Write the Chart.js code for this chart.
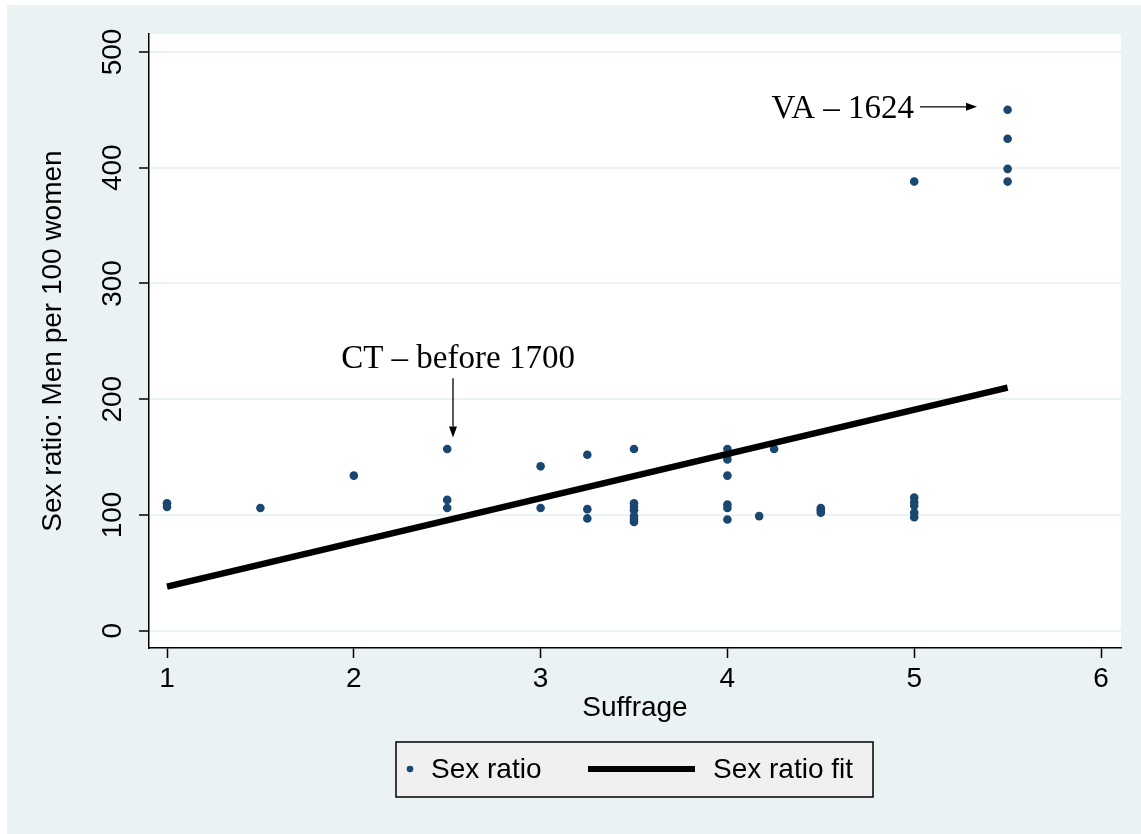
<!DOCTYPE html>
<html lang="en">
<head>
  <meta charset="UTF-8">
  <title>Sex ratio and suffrage</title>
  <script src="https://cdn.jsdelivr.net/npm/chart.js"></script>
  <style>
    html, body { margin: 0; padding: 0; background: #ffffff; }
    canvas { display: block; }
  </style>
</head>
<body>
  <canvas id="grafica" width="1141" height="834"></canvas>

  <script>
    // data
    const suffrage = [1, 1, 1.5, 2, 2.5, 2.5, 2.5, 3, 3,
      3.25, 3.25, 3.25,
      3.5, 3.5, 3.5, 3.5, 3.5, 3.5, 3.5,
      4, 4, 4, 4, 4, 4, 4,
      4.17, 4.25, 4.5, 4.5, 4.5,
      5, 5, 5, 5, 5, 5,
      5.5, 5.5, 5.5, 5.5];
    const sexRatio = [110, 107, 106, 134, 157, 113, 106, 142, 106,
      152, 105, 97,
      157, 110, 107, 104, 99, 96, 94,
      157, 152, 148, 134, 109, 106, 96,
      99, 157, 106, 104, 102,
      388, 115, 111, 108, 102, 98,
      450, 425, 399, 388];
    const fitX = [1, 5.5];
    const fitY = [38, 210];

    const xTicks = [1, 2, 3, 4, 5, 6];
    const yTicks = [0, 100, 200, 300, 400, 500];

    // annotations (data coordinates)
    const ctLabel = "CT \u2013 before 1700";
    const ctText = [2.558, 227];
    const ctArrow = [[2.531, 218], [2.531, 167]];
    const vaLabel = "VA \u2013 1624";
    const vaText = [4.999, 443];
    const vaArrow = [[5.031, 452.6], [5.336, 452.6]];

    const fondo = "#eaf2f3";
    const azul = "#1a476f";
    const sans = "'Liberation Sans', Arial, sans-serif";
    const serif = "'Liberation Serif', 'DejaVu Serif', serif";

    function flecha(ctx, x1, y1, x2, y2) {
      const ang = Math.atan2(y2 - y1, x2 - x1);
      const len = 11, half = 4;
      ctx.beginPath();
      ctx.moveTo(x1, y1);
      ctx.lineTo(x2 - len * Math.cos(ang), y2 - len * Math.sin(ang));
      ctx.stroke();
      ctx.beginPath();
      ctx.moveTo(x2, y2);
      ctx.lineTo(x2 - len * Math.cos(ang) - half * Math.sin(ang), y2 - len * Math.sin(ang) + half * Math.cos(ang));
      ctx.lineTo(x2 - len * Math.cos(ang) + half * Math.sin(ang), y2 - len * Math.sin(ang) - half * Math.cos(ang));
      ctx.closePath();
      ctx.fill();
    }

    const decorado = {
      id: 'decorado',
      beforeDraw(chart) {
        const { ctx, chartArea: a } = chart;
        ctx.save();
        ctx.fillStyle = "#ffffff";
        ctx.fillRect(0, 0, chart.width, chart.height);
        ctx.fillStyle = fondo;
        ctx.fillRect(7, 5, chart.width - 7, chart.height - 5);
        ctx.fillStyle = "#ffffff";
        ctx.fillRect(a.left, a.top, a.right - a.left, a.bottom - a.top);
        ctx.restore();
      },
      afterDraw(chart) {
        const { ctx, scales: { x, y } } = chart;
        ctx.save();

        // y tick labels, rotated
        ctx.fillStyle = "#000";
        ctx.font = "28px " + sans;
        ctx.textAlign = "center";
        ctx.textBaseline = "middle";
        yTicks.forEach(v => {
          ctx.save();
          ctx.translate(113, y.getPixelForValue(v));
          ctx.rotate(-Math.PI / 2);
          ctx.fillText(String(v), 0, 0);
          ctx.restore();
        });

        // annotations
        ctx.font = "33px " + serif;
        ctx.textBaseline = "alphabetic";
        ctx.textAlign = "center";
        ctx.fillText(ctLabel, x.getPixelForValue(ctText[0]), y.getPixelForValue(ctText[1]));
        ctx.textAlign = "right";
        ctx.fillText(vaLabel, x.getPixelForValue(vaText[0]), y.getPixelForValue(vaText[1]));
        ctx.strokeStyle = "#000";
        ctx.lineWidth = 1.3;
        [ctArrow, vaArrow].forEach(a => {
          flecha(ctx, x.getPixelForValue(a[0][0]), y.getPixelForValue(a[0][1]),
            x.getPixelForValue(a[1][0]), y.getPixelForValue(a[1][1]));
        });

        // legend
        const ds = chart.data.datasets;
        ctx.fillStyle = "#f0f0f0";
        ctx.fillRect(396, 742, 477, 55);
        ctx.strokeStyle = "#000";
        ctx.lineWidth = 1.5;
        ctx.strokeRect(396, 742, 477, 55);
        ctx.fillStyle = azul;
        ctx.beginPath();
        ctx.arc(410, 769, 3.3, 0, Math.PI * 2);
        ctx.fill();
        ctx.lineWidth = 6;
        ctx.beginPath();
        ctx.moveTo(588, 769);
        ctx.lineTo(695, 769);
        ctx.stroke();
        ctx.fillStyle = "#000";
        ctx.font = "28px " + sans;
        ctx.textAlign = "left";
        ctx.textBaseline = "middle";
        ctx.fillText(ds[0].label, 431, 770);
        ctx.fillText(ds[1].label, 713, 770);
        ctx.restore();
      }
    };

    const ctx = document.getElementById("grafica").getContext("2d");
    new Chart(ctx, {
      type: 'scatter',
      data: {
        datasets: [{
          label: 'Sex ratio',
          data: suffrage.map((s, i) => ({ x: s, y: sexRatio[i] })),
          backgroundColor: azul,
          borderWidth: 0,
          pointRadius: 4.3,
          order: 2
        }, {
          label: 'Sex ratio fit',
          data: fitX.map((s, i) => ({ x: s, y: fitY[i] })),
          showLine: true,
          borderColor: '#000',
          borderWidth: 6.5,
          pointRadius: 0,
          order: 1
        }]
      },
      options: {
        responsive: false,
        animation: false,
        events: [],
        layout: { padding: { left: 8, top: 34, right: 20, bottom: 109 } },
        plugins: { legend: { display: false }, tooltip: { enabled: false } },
        scales: {
          x: {
            type: 'linear',
            min: 0.9036,
            max: 6.107,
            afterBuildTicks: s => { s.ticks = xTicks.map(v => ({ value: v })); },
            afterFit: s => { s.height = 77; },
            ticks: { color: '#000', font: { family: sans, size: 28 }, padding: 4, maxRotation: 0 },
            grid: { drawOnChartArea: false, tickLength: 10, tickColor: '#000', tickWidth: 1.5 },
            border: { color: '#000', width: 1.5 },
            title: { display: true, text: 'Suffrage', color: '#000', font: { family: sans, size: 28 }, padding: 0 }
          },
          y: {
            type: 'linear',
            min: -14.95,
            max: 515.5,
            afterBuildTicks: s => { s.ticks = yTicks.map(v => ({ value: v })); },
            afterFit: s => { s.width = 141; },
            ticks: { color: 'rgba(0,0,0,0)', font: { family: sans, size: 28 } },
            grid: { color: fondo, lineWidth: 2, tickLength: 10, tickColor: '#000', tickWidth: 1.5 },
            border: { color: '#000', width: 1.5 },
            title: { display: true, text: 'Sex ratio: Men per 100 women', color: '#000', font: { family: sans, size: 28 }, padding: { top: 28, bottom: 0 } }
          }
        }
      },
      plugins: [decorado]
    });
  </script>
</body>
</html>
